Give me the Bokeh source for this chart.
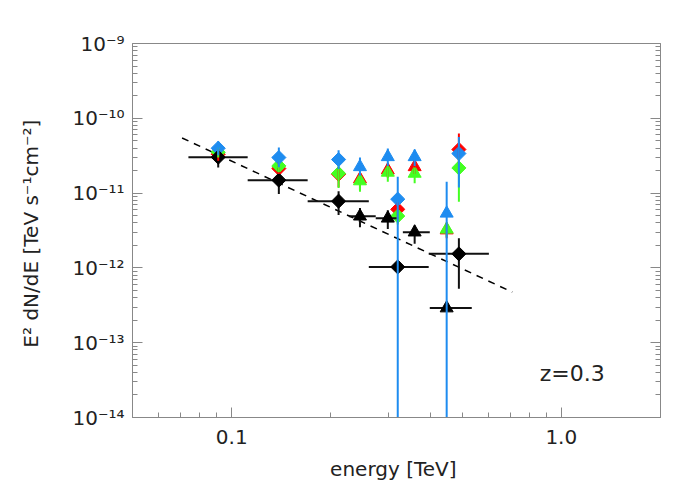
import numpy as np
from bokeh.plotting import figure
from bokeh.models import LogAxis, Range1d, FixedTicker, Label
from bokeh.embed import file_html
from bokeh.resources import INLINE

# ---- data ----
# black diamonds (with energy bins)
bd_x = [0.091, 0.139, 0.211, 0.319, 0.489]
bd_xlo = [0.0739, 0.1118, 0.170, 0.2606, 0.396]
bd_xhi = [0.1118, 0.170, 0.2606, 0.396, 0.603]
bd_y = [3.02e-11, 1.49e-11, 7.8e-12, 1.03e-12, 1.54e-12]
bd_ylo = [2.2e-11, 9.7e-12, 5.1e-12, 1.03e-12, 5.25e-13]
bd_yhi = [3.5e-11, 2.16e-11, 1.06e-11, 1.03e-12, 2.5e-12]

# black triangles
bt_x = [0.245, 0.2976, 0.359, 0.449]
bt_xlo = [0.2267, 0.2735, 0.3306, 0.399]
bt_xhi = [0.2735, 0.3215, 0.399, 0.535]
bt_y = [4.9e-12, 4.6e-12, 3.0e-12, 2.9e-13]
bt_ylo = [3.5e-12, 3.3e-12, 2.1e-12, 2.9e-13]
bt_yhi = [6.3e-12, 5.9e-12, 3.7e-12, 2.9e-13]

# colored (de-absorbed) points share energies
c_x = [0.091, 0.139, 0.211, 0.245, 0.2976, 0.319, 0.359, 0.449, 0.489]
c_shape = ["diamond", "diamond", "diamond", "triangle", "triangle", "diamond", "triangle", "triangle", "diamond"]

red_y = [3.31e-11, 2.13e-11, 1.79e-11, 1.54e-11, 2.03e-11, 6.06e-12, 2.24e-11, 3.2e-12, 3.83e-11]
red_lo = [2.7e-11, 1.8e-11, 1.2e-11, 1.1e-11, 1.6e-11, 4.5e-12, 1.8e-11, 2.5e-12, 2.5e-11]
red_hi = [3.9e-11, 2.6e-11, 2.2e-11, 1.9e-11, 2.5e-11, 7.5e-12, 2.7e-11, 4.0e-12, 6.25e-11]

green_y = [3.52e-11, 2.31e-11, 1.83e-11, 1.45e-11, 1.89e-11, 4.94e-12, 1.83e-11, 3.28e-12, 2.17e-11]
green_lo = [3.0e-11, 1.9e-11, 1.17e-11, 1.04e-11, 1.42e-11, 3.8e-12, 1.35e-11, 2.6e-12, 7.66e-12]
green_hi = [4.1e-11, 2.8e-11, 2.3e-11, 1.8e-11, 2.3e-11, 6.0e-12, 2.2e-11, 4.0e-12, 3.0e-11]

blue_y = [3.98e-11, 2.99e-11, 2.81e-11, 2.24e-11, 3.05e-11, 8.3e-12, 3.05e-11, 5.36e-12, 3.38e-11]
blue_lo = [3.2e-11, 2.22e-11, 2.1e-11, 1.7e-11, 2.3e-11, 1e-16, 2.3e-11, 1e-16, 1.19e-11]
blue_hi = [4.94e-11, 4.07e-11, 3.74e-11, 2.99e-11, 3.95e-11, 1.65e-11, 3.83e-11, 1.42e-11, 5.64e-11]

# power-law fit line
fit_x = [0.0707, 0.71]
fit_y = [5.46e-11, 4.74e-13]

x_ticks = [0.1, 1.0]
x_tick_labels = ["0.1", "1.0"]
x_minor = [0.06, 0.07, 0.08, 0.09, 0.2, 0.3, 0.4, 0.5, 0.6, 0.7, 0.8, 0.9, 2.0]
y_ticks = [1e-14, 1e-13, 1e-12, 1e-11, 1e-10, 1e-9]
y_tick_labels = ["10\u207b\u00b9\u2074", "10\u207b\u00b9\u00b3", "10\u207b\u00b9\u00b2",
                 "10\u207b\u00b9\u00b9", "10\u207b\u00b9\u2070", "10\u207b\u2079"]

RED = "#ff0000"
GREEN = "#44ff22"
BLUE = "#1e8cf0"
FONT = "DejaVu Sans"
AX = "#888888"
TXT = "#222222"

y_minor = [m * 10.0 ** e for e in range(-14, -9) for m in range(2, 10)]

p = figure(x_axis_type="log", y_axis_type="log",
           x_range=Range1d(0.05, 2.0), y_range=Range1d(1e-14, 1e-9),
           frame_width=528, frame_height=374,
           min_border_left=132, min_border_top=43, min_border_right=24, min_border_bottom=70,
           output_backend="svg", toolbar_location=None,
           background_fill_color="white", border_fill_color="white")
p.grid.visible = False
p.outline_line_color = AX
p.outline_line_width = 1

for ax in (p.xaxis[0], p.yaxis[0]):
    ax.axis_line_color = AX
    ax.major_tick_line_color = AX
    ax.minor_tick_line_color = AX
    ax.major_tick_in = 10
    ax.major_tick_out = 0
    ax.minor_tick_in = 5
    ax.minor_tick_out = 0
    ax.major_label_text_font = FONT
    ax.major_label_text_font_size = "20px"
    ax.major_label_text_color = TXT
    ax.axis_label_text_font = FONT
    ax.axis_label_text_font_size = "20px"
    ax.axis_label_text_font_style = "normal"
    ax.axis_label_text_color = TXT

p.xaxis[0].ticker = FixedTicker(ticks=x_ticks, minor_ticks=x_minor)
p.xaxis[0].major_label_overrides = {t: l for t, l in zip(x_ticks, x_tick_labels)}
p.xaxis[0].axis_label = "energy  [TeV]"
p.xaxis[0].major_label_standoff = 12
p.xaxis[0].axis_label_standoff = 10

p.yaxis[0].ticker = FixedTicker(ticks=y_ticks, minor_ticks=y_minor)
p.yaxis[0].major_label_overrides = {t: l for t, l in zip(y_ticks, y_tick_labels)}
p.yaxis[0].axis_label = "E\u00b2 dN/dE  [TeV s\u207b\u00b9cm\u207b\u00b2]"
p.yaxis[0].major_label_standoff = 8
p.yaxis[0].axis_label_standoff = 26

right = LogAxis(ticker=FixedTicker(ticks=y_ticks, minor_ticks=y_minor),
                axis_line_color=AX, major_tick_line_color=AX, minor_tick_line_color=AX,
                major_tick_in=10, major_tick_out=0, minor_tick_in=5, minor_tick_out=0,
                major_label_standoff=0, major_label_text_font_size="1px")
right.major_label_text_alpha = 0
p.add_layout(right, "right")

# fit line
p.line(fit_x, fit_y, line_color="black", line_width=1.5, line_dash="7 6")

DIAMOND = dict(marker="square", size=10, angle=np.pi / 4)
TRIANGLE = dict(marker="triangle", size=13)

def markers(ys, color):
    dx = [x for x, s in zip(c_x, c_shape) if s == "diamond"]
    dy = [y for y, s in zip(ys, c_shape) if s == "diamond"]
    tx = [x for x, s in zip(c_x, c_shape) if s == "triangle"]
    ty = [y for y, s in zip(ys, c_shape) if s == "triangle"]
    p.scatter(dx, dy, fill_color=color, line_color=color, **DIAMOND)
    p.scatter(tx, ty, fill_color=color, line_color=color, **TRIANGLE)

markers(red_y, RED)
markers(green_y, GREEN)
markers(blue_y, BLUE)

# black data
p.segment(bd_xlo, bd_y, bd_xhi, bd_y, line_color="#111111", line_width=2)
p.segment(bd_x, bd_ylo, bd_x, bd_yhi, line_color="#111111", line_width=2)
p.scatter(bd_x, bd_y, fill_color="black", line_color="black", **DIAMOND)
p.segment(bt_xlo, bt_y, bt_xhi, bt_y, line_color="#111111", line_width=2)
p.segment(bt_x, bt_ylo, bt_x, bt_yhi, line_color="#111111", line_width=2)
p.scatter(bt_x, bt_y, fill_color="black", line_color="black", **TRIANGLE)

# colored error bars on top
p.segment(c_x, red_lo, c_x, red_hi, line_color=RED, line_width=2)
p.segment(c_x, green_lo, c_x, green_hi, line_color=GREEN, line_width=2)
p.segment(c_x, blue_lo, c_x, blue_hi, line_color=BLUE, line_width=2)

p.add_layout(Label(x=0.86, y=2.6e-14, text="z=0.3", text_font=FONT,
                   text_font_size="22px", text_color=TXT, text_align="left"))

open("out.html", "w").write(file_html(p, INLINE))
